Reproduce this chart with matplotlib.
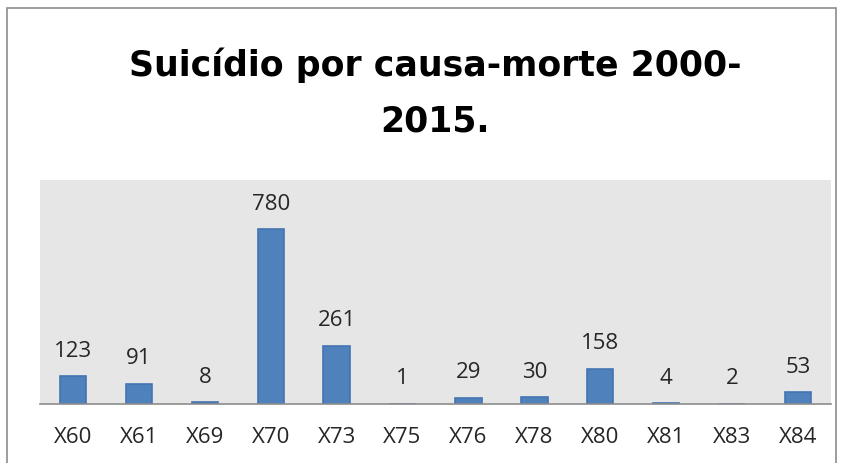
import matplotlib
matplotlib.use("Agg")
import matplotlib.pyplot as plt
from matplotlib.patches import Rectangle

categories = ["X60", "X61", "X69", "X70", "X73", "X75", "X76", "X78", "X80", "X81", "X83", "X84"]
values = [123, 91, 8, 780, 261, 1, 29, 30, 158, 4, 2, 53]
title = "Suicídio por causa-morte 2000-\n2015."

W, H = 844, 464
fig = plt.figure(figsize=(W / 100, H / 100), dpi=100)
fig.patch.set_facecolor("white")

# outer chart border
fig.add_artist(Rectangle((7 / W, -0.05), (836 - 7) / W, 1.05 - 9 / H, transform=fig.transFigure,
                         fill=False, edgecolor="#8c8c8c", linewidth=1.2))

left, right, top, bottom = 40, 831, 181, 405
ax = fig.add_axes([left / W, 1 - bottom / H, (right - left) / W, (bottom - top) / H])
ax.set_facecolor("#e6e6e6")

x = range(len(categories))
ax.bar(x, values, width=0.40, color="#4f81bd", edgecolor="#4574b0", linewidth=1.2, zorder=2)
ax.set_xlim(-0.5, len(categories) - 0.5)
ax.set_ylim(0, 1000)

for xi, v in zip(x, values):
    ax.annotate(str(v), (xi, v), xytext=(0, 11), textcoords="offset points",
                ha="center", va="bottom", fontsize=16, color="#262626", family="Open Sans")

ax.set_xticks(list(x))
ax.set_xticklabels(categories, fontsize=16, family="Open Sans", color="#262626")
ax.tick_params(axis="x", length=0, pad=16)
ax.set_yticks([])
for s in ["left", "right", "top"]:
    ax.spines[s].set_visible(False)
ax.spines["bottom"].set_color("#8c8c8c")
ax.spines["bottom"].set_linewidth(1.2)

fig.text(435 / W, 1 - 93 / H, title, ha="center", va="center", fontsize=25, fontweight="bold",
         family="DejaVu Sans", linespacing=1.8, color="black")

fig.savefig("out.png", dpi=100, facecolor="white")
